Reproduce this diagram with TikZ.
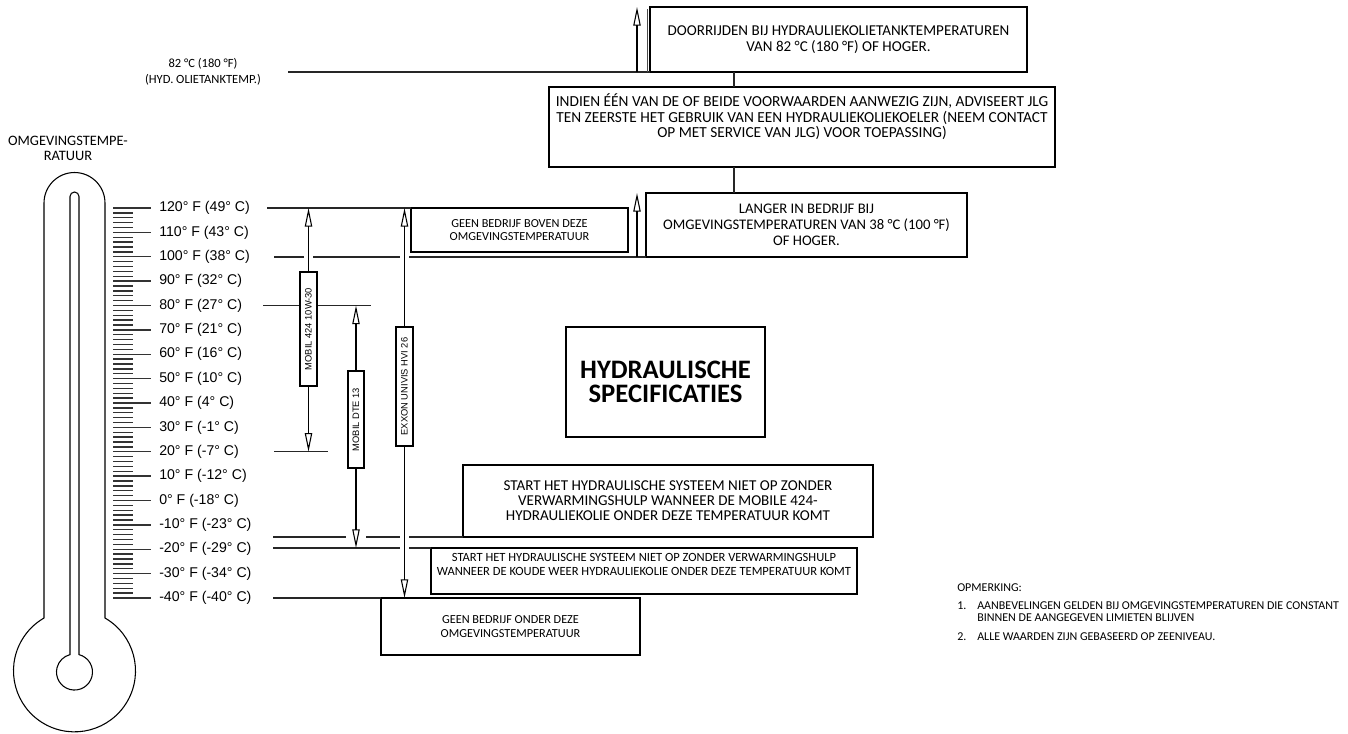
\documentclass[tikz,border=0pt]{standalone}
\usepackage{fontspec}
\setmainfont{Carlito}
\newfontfamily\arialfont{Liberation Sans}
\usetikzlibrary{arrows.meta, calc}

\begin{document}
\begin{tikzpicture}[
x=0.75pt, y=-0.75pt,
    textbox/.style={rectangle, draw, line width=1.4pt, fill=white, align=center, inner sep=0pt, outer sep=0pt, anchor=north west, font=\fontsize{11.3}{11.6}\selectfont},
    smallbox/.style={textbox, font=\fontsize{9.2}{10}\selectfont},
    titlebox/.style={textbox, line width=1.1pt, font=\fontsize{20}{18}\selectfont\bfseries},
    oilbox/.style={rectangle, draw, line width=0.8pt, fill=white, rotate=90, inner sep=0pt, outer sep=0pt, font=\arialfont\fontsize{7}{8}\selectfont},
    boxsize/.style 2 args={minimum width=#1*0.75pt, minimum height=#2*0.75pt},
    levelline/.style={draw, line width=0.8pt, black!85},
    limit/.style={draw, line width=0.8pt, -{Triangle[open, length=14pt, width=5.5pt]}},
    halo/.style={preaction={draw=white, line width=#1, arrows=-, shorten <=1.5pt, shorten >=2pt}},
    tick/.style={draw, line width=1pt, black!80},
    scalelabel/.style={anchor=west, inner sep=0pt, font=\arialfont\fontsize{10.6}{13}\selectfont},
    notetext/.style={anchor=base west, inner sep=0pt, align=left, font=\fontsize{9}{9}\selectfont}
]
    \useasboundingbox (0,0) rectangle (1348,733);

    % ================= THERMOMETER =================
    \draw[line width=0.8pt] (44,618) -- (44,203) arc[start angle=180, end angle=360, radius=30.5]
        -- (105,618) arc[start angle=-60, end angle=240, radius=61] -- cycle;
    \draw[line width=0.8pt] (70,654.6) -- (70,196.5) arc[start angle=180, end angle=360, radius=4.5]
        -- (79,654.6) arc[start angle=-75.5, end angle=255.5, radius=18] -- cycle;
    \node[align=center, inner sep=0pt, font=\fontsize{10.8}{11.3}\selectfont] (Ambient) at (68,148) {OMGEVINGSTEMPE-\\RATUUR};

    % ================= SCALE =================
    \foreach \t in {-40,-38,...,120} {
        \pgfmathsetmacro\yy{208+(120-\t)*2.4375}
        \draw[tick] (113,\yy) -- (133,\yy);
    }
    \foreach \tf/\tc in {120/49,110/43,100/38,90/32,80/27,70/21,60/16,50/10,40/4,30/-1,20/-7,10/-12,0/-18,-10/-23,-20/-29,-30/-34,-40/-40} {
        \pgfmathsetmacro\yy{208+(120-\tf)*2.4375}
        \draw[tick] (113,\yy) -- (151,\yy);
        \node[scalelabel] (T\tf) at (159,\yy) {\tf° F (\tc° C)};
    }

    % tank temperature label
    \node[align=center, inner sep=0pt, font=\fontsize{9.4}{12}\selectfont] (TankLabel) at (203,72) {82 °C (180 °F)\\(HYD. OLIETANKTEMP.)};

    % ================= TEXT BOXES =================
    \node[textbox, boxsize={377}{65}] (Doorrijden) at (650,7) {DOORRIJDEN BIJ HYDRAULIEKOLIETANKTEMPERATUREN\\VAN 82 °C (180 °F) OF HOGER.};
    \node[textbox, boxsize={506}{80}, text depth=17pt, font=\fontsize{11.5}{11.6}\selectfont] (Indien) at (549,87) {INDIEN ÉÉN VAN DE OF BEIDE VOORWAARDEN AANWEZIG ZIJN, ADVISEERT JLG\\TEN ZEERSTE HET GEBRUIK VAN EEN HYDRAULIEKOLIEKOELER (NEEM CONTACT\\OP MET SERVICE VAN JLG) VOOR TOEPASSING)};
    \node[textbox, boxsize={321}{64}, font=\fontsize{11}{12}\selectfont] (Langer) at (646,193) {LANGER IN BEDRIJF BIJ\\OMGEVINGSTEMPERATUREN VAN 38 °C (100 °F)\\OF HOGER.};
    \node[smallbox, boxsize={217}{44}] (GeenBoven) at (411,208) {GEEN BEDRIJF BOVEN DEZE\\OMGEVINGSTEMPERATUUR};
    \node[titlebox, boxsize={199}{110}] (Title) at (566,327) {HYDRAULISCHE\\SPECIFICATIES};
    \node[textbox, boxsize={410}{72}, font=\fontsize{11.3}{11.3}\selectfont] (Start424) at (463,465) {START HET HYDRAULISCHE SYSTEEM NIET OP ZONDER\\VERWARMINGSHULP WANNEER DE MOBILE 424-\\HYDRAULIEKOLIE ONDER DEZE TEMPERATUUR KOMT};
    \node[smallbox, boxsize={426}{46}, text depth=10pt, font=\fontsize{9.4}{11}\selectfont] (StartKoud) at (431,548) {START HET HYDRAULISCHE SYSTEEM NIET OP ZONDER VERWARMINGSHULP\\WANNEER DE KOUDE WEER HYDRAULIEKOLIE ONDER DEZE TEMPERATUUR KOMT};
    \node[smallbox, boxsize={259}{57}] (GeenOnder) at (381,598) {GEEN BEDRIJF ONDER DEZE\\OMGEVINGSTEMPERATUUR};

    % ================= LEVEL LINES =================
    \coordinate (Tank) at (288,72);
    \coordinate (L120) at (267,208);
    \coordinate (L100) at (274,257);
    \coordinate (L80) at (263,305.5);
    \coordinate (L80e) at (371,305.5);
    \coordinate (L20) at (274,451.75);
    \coordinate (L20e) at (328,451.75);
    \coordinate (Lm15) at (273,537);
    \coordinate (Lm20) at (273,548);
    \coordinate (Lm40) at (273,598);
    \coordinate (Up82) at (637,72);
    \coordinate (Up100) at (637,257);
    \coordinate (Link) at (734,0);

    \draw[levelline] (Tank) -- (Doorrijden.south west);
    \draw[levelline] (L120) -- (GeenBoven.north west);
    \draw[levelline] (L100) -- (Langer.south west);
    \draw[levelline] (L80) -- (L80e);
    \draw[levelline] (L20) -- (L20e);
    \draw[levelline] (Lm15) -- (Start424.south west);
    \draw[levelline] (Lm20) -- (StartKoud.north west);
    \draw[levelline] (Lm40) -- (GeenOnder.north west);

    \draw[line width=0.5pt, black!70] ($(Doorrijden.south west)+(-3,0)$) -- ($(Doorrijden.north west)+(-3,2)$);
    \draw[levelline] (Link |- Doorrijden.south) -- (Link |- Indien.north);
    \draw[levelline] (Link |- Indien.south) -- (Link |- Langer.north);
    \draw[limit] (Up82) -- (Up82 |- Doorrijden.north);
    \draw[limit] (Up100) -- (Up100 |- Langer.north);

    % ================= OIL RANGES =================
    \node[oilbox, boxsize={114}{17}] (Mobil424) at (308.5,329) {MOBIL 424 10W-30};
    \node[oilbox, boxsize={97}{16}] (MobilDTE) at (356,419.5) {MOBIL DTE 13};
    \node[oilbox, boxsize={119}{17}] (Exxon) at (404.5,386.5) {EXXON UNIVIS HVI 26};

    \draw[limit, halo=7pt] (Mobil424.east) -- (Mobil424.east |- L120);
    \draw[limit] (Mobil424.west) -- (Mobil424.west |- L20);
    \draw[limit] (MobilDTE.east) -- (MobilDTE.east |- L80);
    \draw[limit, halo=15pt] (MobilDTE.west) -- (MobilDTE.west |- Lm20);
    \draw[limit, halo=7pt] (Exxon.east) -- (Exxon.east |- L120);
    \draw[limit, halo=7pt] (Exxon.west) -- (Exxon.west |- Lm40);

    % ================= NOTES =================
    \node[notetext] (NoteHead) at (957,591) {OPMERKING:};
    \node[notetext] (Note1Num) at (957,609) {1.};
    \node[notetext] (Note1) at (977,621) {AANBEVELINGEN GELDEN BIJ OMGEVINGSTEMPERATUREN DIE CONSTANT\\BINNEN DE AANGEGEVEN LIMIETEN BLIJVEN};
    \node[notetext] (Note2Num) at (957,640) {2.};
    \node[notetext] (Note2) at (977,640) {ALLE WAARDEN ZIJN GEBASEERD OP ZEENIVEAU.};

\end{tikzpicture}
\end{document}
